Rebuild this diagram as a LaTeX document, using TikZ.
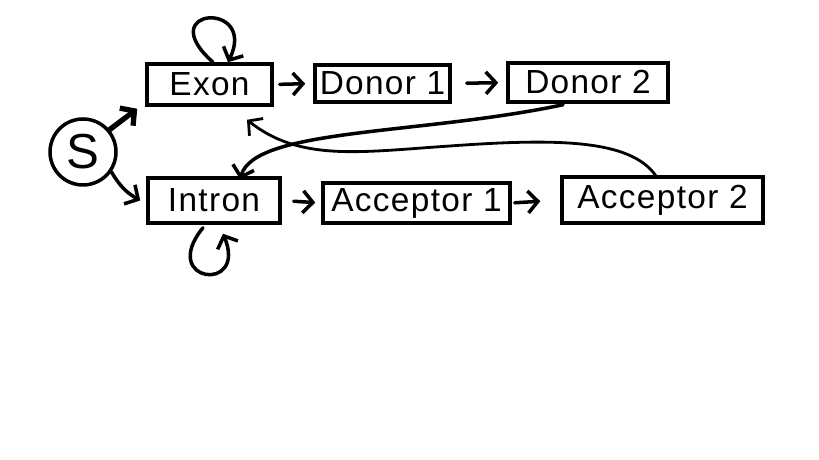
\documentclass[tikz,border=0pt]{standalone}
\usepackage{fontspec}
\setmainfont{Liberation Sans}
\usetikzlibrary{arrows.meta}

\begin{document}
\begin{tikzpicture}[line width=1pt, line cap=round,
    >={Straight Barb[length=1mm,width=2.2mm]},
    box/.style={draw, inner sep=0pt, font=\fontsize{9.5}{11}\selectfont\addfontfeature{LetterSpace=4}},
    start/.style={draw, circle, inner sep=0pt, minimum size=0.66cm, font=\fontsize{14}{16}\selectfont}]
  % 1 px = 0.01 cm, y nach unten negativ
  \useasboundingbox (0,0) rectangle (8.19,-4.60);
  \node[start] (S) at (0.83,-1.52) {S};
  \node[box, minimum width=1.25cm, minimum height=0.41cm] (Exon) at (2.095,-0.845) {Exon};
  \node[box, minimum width=1.35cm, minimum height=0.37cm] (Don1) at (3.825,-0.835) {Donor 1};
  \node[box, minimum width=1.60cm, minimum height=0.39cm] (Don2) at (5.88,-0.825) {Donor 2};
  \node[box, minimum width=1.32cm, minimum height=0.45cm] (Intron) at (2.14,-2.005) {Intron};
  \node[box, minimum width=1.87cm, minimum height=0.40cm] (Acc1) at (4.165,-2.03) {Acceptor 1};
  \node[box, minimum width=2.01cm, minimum height=0.46cm] (Acc2) at (6.625,-2.00) {Acceptor 2};
  % Start
  \draw[->, line width=1.5pt] (S.40) -- ([shift={(-0.08,-0.02)}]Exon.south west);
  \draw[->] (S.-35) to[bend right=15] ([xshift=-0.06cm]Intron.west);
  % Schleifen
  \draw[->] ([xshift=0.035cm]Exon.north) .. controls +(-0.62,0.55) and +(0.3,0.62) .. ([xshift=0.185cm]Exon.north);
  \draw[->] ([shift={(-0.11,-0.03)}]Intron.south) .. controls +(-0.45,-0.55) and +(0.25,-0.6) .. ([shift={(0.09,-0.09)}]Intron.south);
  % Ketten
  \draw[->, shorten <=0.06cm, shorten >=0.08cm] (Exon.east) -- (Don1.west);
  \draw[->, shorten <=0.15cm, shorten >=0.08cm] (Don1.east) -- (Don2.west);
  \draw[->, shorten <=0.12cm, shorten >=0.06cm] (Intron.east) -- (Acc1.west);
  \draw[->, shorten <=0.03cm, shorten >=0.20cm] (Acc1.east) -- (Acc2.west);
  % Ruecksprung
  \draw[->] ([shift={(-0.25,-0.01)}]Don2.south) .. controls (4.2,-1.35) and (2.55,-1.28) .. ([shift={(0.26,-0.03)}]Intron.north);
  \draw[->, line width=0.8pt] ([xshift=-0.07cm]Acc2.north) .. controls (6.30,-1.40) and (5.6,-1.38) .. (4.5,-1.46)
    .. controls (3.6,-1.52) and (3.0,-1.62) .. ([shift={(0.375,-0.13)}]Exon.south);
\end{tikzpicture}
\end{document}
